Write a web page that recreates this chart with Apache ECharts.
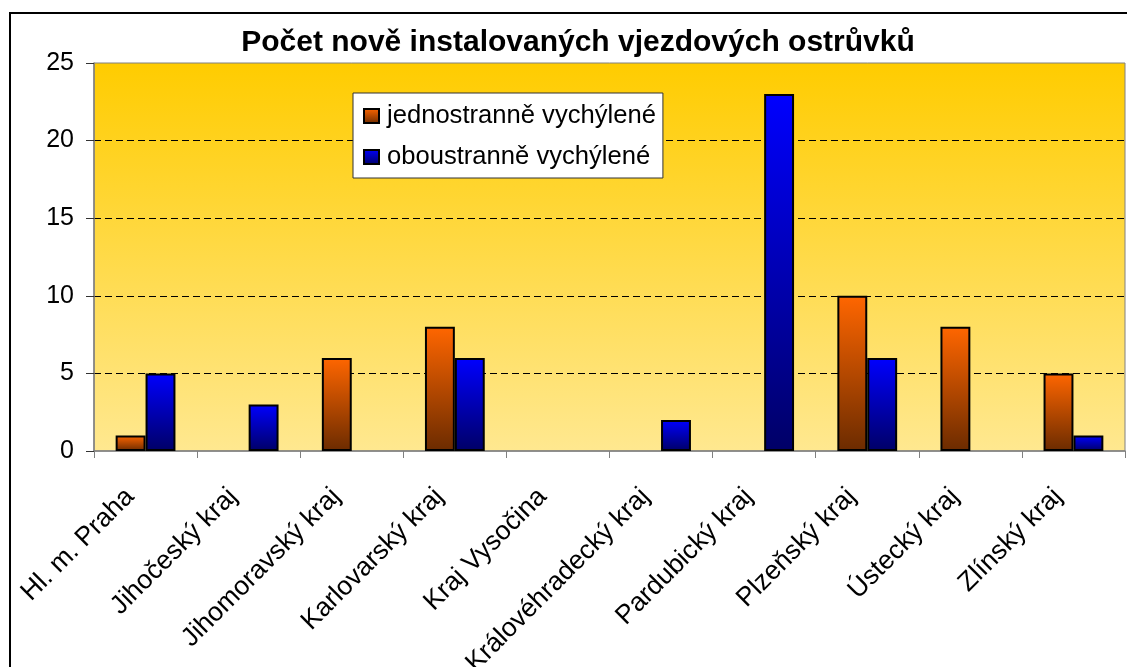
<!DOCTYPE html>
<html>
<head>
    <meta charset="UTF-8">
    <title>Počet nově instalovaných vjezdových ostrůvků</title>
    <script src="https://cdn.jsdelivr.net/npm/echarts@6/dist/echarts.min.js"></script>
    <style>
        html, body {margin: 0; padding: 0; background: #fff;}
        #chart {width: 1127px; height: 667px;}
    </style>
</head>
<body>
<div id="chart"></div>
<script>
    // kraje
    var kraje = ['Hl. m. Praha', 'Jihočeský kraj', 'Jihomoravský kraj', 'Karlovarský kraj', 'Kraj Vysočina',
        'Královéhradecký kraj', 'Pardubický kraj', 'Plzeňský kraj', 'Ústecký kraj', 'Zlínský kraj'];
    // počty ostrůvků
    var jednostranne = [1, 0, 6, 8, 0, 0, 0, 10, 8, 5];
    var oboustranne = [5, 3, 0, 6, 0, 2, 23, 6, 0, 1];
    var osaY = [0, 5, 10, 15, 20, 25];

    var pismo = 'Liberation Sans, Arial, sans-serif';
    var G = echarts.graphic.LinearGradient;

    // nulove hodnoty Excel nekresli
    function bezNul(arr) {
        return arr.map(function (v) { return v === 0 ? '-' : v; });
    }

    var myChart = echarts.init(document.getElementById('chart'));
    var option = {
        animation: false,
        textStyle: {fontFamily: pismo},
        title: {
            text: 'Počet nově instalovaných vjezdových ostrůvků',
            left: 573,
            textAlign: 'center',
            top: 23,
            textStyle: {fontSize: 30, fontWeight: 'bold', color: '#000', fontFamily: pismo}
        },
        legend: {
            orient: 'vertical',
            left: 353,
            top: 93,
            backgroundColor: '#fff',
            borderColor: '#333',
            borderWidth: 1,
            borderRadius: 0,
            padding: [10, 7, 8, 10],
            itemWidth: 15,
            itemHeight: 14,
            itemGap: 15,
            icon: 'rect',
            textStyle: {fontSize: 25.6, lineHeight: 26, color: '#000', fontFamily: pismo, padding: [0, 0, 0, 3]},
            data: ['jednostranně vychýlené', 'oboustranně vychýlené']
        },
        grid: {
            left: 94,
            top: 63,
            right: 2,
            bottom: 216,
            containLabel: false,
            outerBoundsMode: 'none',
            show: true,
            borderColor: '#808080',
            borderWidth: 1,
            backgroundColor: new G(0, 0, 0, 1, [
                {offset: 0, color: '#FFCC00'},
                {offset: 1, color: '#FFE890'}
            ])
        },
        xAxis: {
            type: 'category',
            data: kraje,
            axisLine: {lineStyle: {color: '#808080', width: 1.5}},
            axisTick: {show: true, length: 7, lineStyle: {color: '#808080'}},
            axisLabel: {
                rotate: 45, interval: 0, margin: 26, fontSize: 26.5, color: '#000', fontFamily: pismo,
                padding: [0, 22, 0, 0]
            }
        },
        yAxis: {
            type: 'value',
            min: osaY[0],
            max: osaY[osaY.length - 1],
            interval: 5,
            axisLine: {show: true, lineStyle: {color: '#808080', width: 1.5}},
            axisTick: {show: true, length: 8, lineStyle: {color: '#333'}},
            axisLabel: {margin: 20, fontSize: 25, color: '#000', fontFamily: pismo},
            splitLine: {
                show: true,
                showMinLine: false,
                showMaxLine: false,
                lineStyle: {color: '#000', type: [7, 4], width: 1}
            }
        },
        series: [
            {
                name: 'jednostranně vychýlené',
                type: 'bar',
                barGap: '0%',
                barCategoryGap: '42%',
                data: bezNul(jednostranne),
                itemStyle: {
                    color: new G(0, 0, 0, 1, [
                        {offset: 0, color: '#FF6600'},
                        {offset: 1, color: '#6B2B00'}
                    ]),
                    borderColor: '#000',
                    borderWidth: 2
                }
            },
            {
                name: 'oboustranně vychýlené',
                type: 'bar',
                barGap: '0%',
                barCategoryGap: '42%',
                data: bezNul(oboustranne),
                itemStyle: {
                    color: new G(0, 0, 0, 1, [
                        {offset: 0, color: '#0000FF'},
                        {offset: 1, color: '#000066'}
                    ]),
                    borderColor: '#000',
                    borderWidth: 2
                }
            }
        ],
        graphic: [
            {   // ramecek kolem celeho grafu
                type: 'rect',
                silent: true,
                z: 100,
                shape: {x: 10, y: 13, width: 1140, height: 700},
                style: {fill: 'transparent', stroke: '#000', lineWidth: 2}
            }
        ]
    };
    myChart.setOption(option);
</script>
</body>
</html>
